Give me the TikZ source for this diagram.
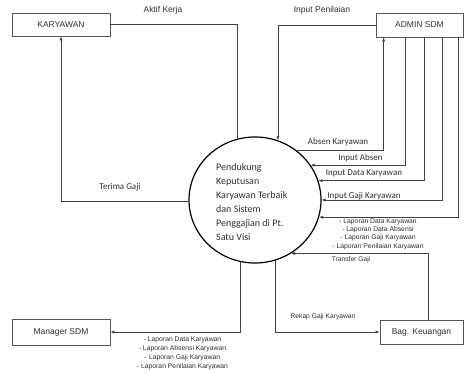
\documentclass[tikz,border=0pt]{standalone}
\usepackage{fontspec}
\setmainfont{Liberation Sans}
\newfontfamily\carl{Carlito}
\usetikzlibrary{arrows.meta,shapes.geometric}
\definecolor{boxc}{HTML}{555555}
\definecolor{linec}{HTML}{404040}
\definecolor{txt}{HTML}{303030}
\begin{document}
\begin{tikzpicture}[x=1pt,y=-1pt,
 box/.style={draw=boxc, line width=0.8pt, inner sep=0pt, font=\fontsize{8.5}{10}\selectfont, text=txt},
 flow/.style={draw=linec, line width=0.7pt},
 arr/.style={flow, -{Latex[length=4pt,width=3.2pt]}},
 lbl/.style={font=\fontsize{8.5}{10}\selectfont, text=txt, inner sep=0pt},
 clbl/.style={font=\carl\fontsize{9}{10}\selectfont, text=txt, inner sep=0pt},
 small/.style={font=\fontsize{6.8}{8.3}\selectfont, text=txt, inner sep=0pt, align=center},
]
\useasboundingbox (0,0) rectangle (466,374);
\fill[white] (0,0) rectangle (466,374);

% entities
\node[box, minimum width=98pt, minimum height=23pt] (kary) at (61,24.5) {KARYAWAN};
\node[box, minimum width=87pt, minimum height=24pt] (admin) at (419.5,25) {ADMIN SDM};
\node[box, minimum width=98pt, minimum height=26pt] (mgr) at (61,332) {Manager SDM};
\node[box, minimum width=83pt, minimum height=24pt] (bag) at (421.5,332) {Bag. Keuangan};

% process
\node[draw=black, ellipse, line width=1.2pt, minimum width=132pt, minimum height=126pt, inner sep=0pt] (proc) at (255,200) {};
\node[font=\carl\fontsize{10}{14}\selectfont, align=left, anchor=west, inner sep=0pt, text=txt] (ptext) at (216,202.5)
 {Pendukung\\Keputusan\\Karyawan Terbaik\\dan Sistem\\Penggajian di Pt.\\Satu Visi};

% flows
\draw[flow] (kary.east) -| (proc.106);
\draw[arr] (admin.west) -| (proc.69);
\draw[arr] (proc.181) -| (kary.south);
\draw[arr] (proc.50) -| ([xshift=8pt]admin.south west);
\draw[arr] ([xshift=30pt]admin.south west) |- (proc.32);
\draw[arr] ([xshift=49pt]admin.south west) |- (proc.17);
\draw[arr] ([xshift=67pt]admin.south west) |- (proc.0);
\draw[arr] ([xshift=83pt]admin.south west) |- (proc.-15.5);
\draw[arr] ([xshift=-35pt]bag.north east) |- (proc.-56);
\draw[arr] (proc.-71) |- (bag.west);
\draw[arr] (proc.257) |- (mgr.east);

% labels
\node[lbl] (l1) at (163,10) {Aktif Kerja};
\node[lbl] (l2) at (322,10) {Input Penilaian};
\node[clbl] (l3) at (120,187) {Terima Gaji};
\node[clbl] (l4) at (338,141.7) {Absen Karyawan};
\node[clbl] (l5) at (360.5,158.3) {Input Absen};
\node[clbl] (l6) at (364,173.3) {Input Data Karyawan};
\node[clbl] (l7) at (364,195.7) {Input Gaji Karyawan};
\node[small] (l8) at (378,234.2) {- Laporan Data Karyawan\\- Laporan Data Absensi\\- Laporan Gaji Karyawan\\- Laporan Penilaian Karyawan};
\node[small, font=\fontsize{6.7}{8}\selectfont] (l9) at (351,259.3) {Transfer Gaji};
\node[small, font=\fontsize{6.7}{8}\selectfont] (l10) at (323,316.7) {Rekap Gaji Karyawan};
\node[small, font=\fontsize{6.8}{8.9}\selectfont] (l11) at (182.5,353.3) {- Laporan Data Karyawan\\- Laporan Absensi Karyawan\\- Laporan Gaji Karyawan\\- Laporan Penilaian Karyawan};
\end{tikzpicture}
\end{document}
